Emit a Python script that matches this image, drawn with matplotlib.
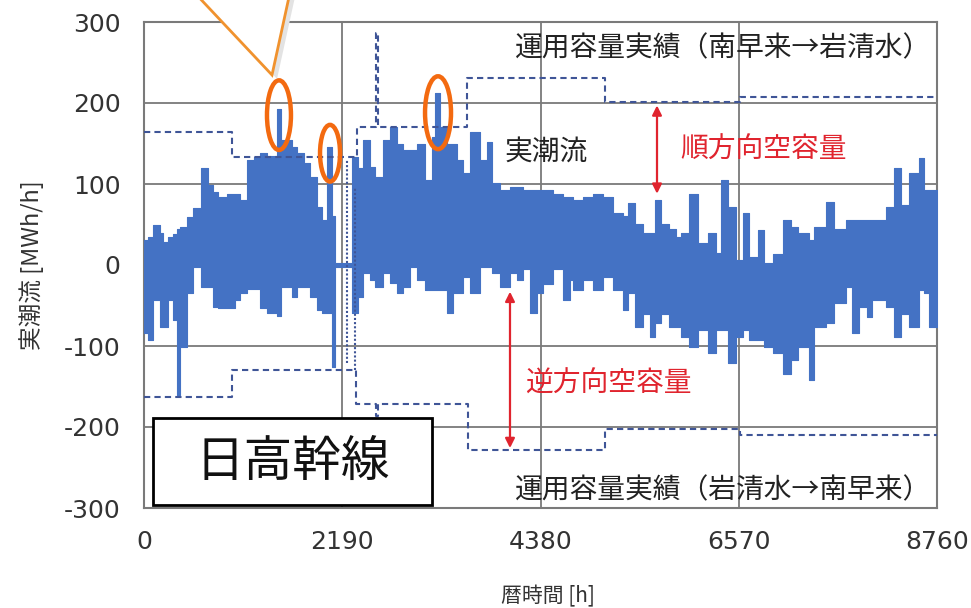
import matplotlib
matplotlib.use("Agg")
import matplotlib.pyplot as plt
from matplotlib.patches import Ellipse, Rectangle, Polygon
import numpy as np

plt.rcParams['font.family'] = ['Noto Sans CJK JP', 'DejaVu Sans']
plt.rcParams['axes.unicode_minus'] = False

# ---------------- data ----------------
# envelope of the hourly actual power flow: segment start hour, upper, lower [MWh/h]
flow_hours = [0, 44, 99, 177, 210, 265, 320, 365, 398, 475, 541, 630, 707, 762, 817,
              917, 1005, 1060, 1138, 1215, 1281, 1359, 1469, 1513, 1635, 1690, 1768,
              1834, 1911, 1966, 2022, 2077, 2110, 2298, 2364, 2419, 2497, 2552, 2640,
              2718, 2795, 2861, 2939, 3016, 3104, 3182, 3215, 3270, 3347, 3414, 3458,
              3524, 3601, 3712, 3789, 3844, 3933, 4043, 4121, 4187, 4264, 4341, 4408,
              4518, 4629, 4706, 4739, 4850, 4960, 5071, 5181, 5292, 5347, 5424, 5512,
              5590, 5645, 5711, 5800, 5877, 5932, 6021, 6120, 6231, 6319, 6374, 6452,
              6540, 6617, 6683, 6783, 6849, 6949, 7059, 7147, 7225, 7346, 7401, 7534,
              7622, 7755, 7821, 7899, 7987, 8042, 8197, 8285, 8362, 8451, 8561, 8617,
              8672]
flow_high = [31, 35, 49, 40, 28, 35, 38, 45, 47, 59, 70, 120, 99, 90, 84,
             88, 88, 80, 130, 133, 138, 135, 192, 154, 146, 138, 126,
             109, 72, 56, 146, 60, 2, 133, 120, 154, 121, 109, 154,
             170, 150, 142, 142, 150, 105, 158, 212, 170, 150, 150, 130,
             114, 164, 130, 152, 101, 93, 96, 96, 93, 93, 93, 93,
             88, 84, 84, 80, 84, 88, 84, 64, 60, 77, 51, 40,
             40, 80, 51, 44, 35, 40, 88, 27, 40, 15, 105, 72,
             6, 64, 10, 43, 2, 14, 56, 47, 40, 31, 47, 78,
             44, 56, 56, 56, 56, 56, 72, 120, 74, 114, 132, 93,
             93]
flow_low = [-84, -93, -43, -76, -76, -43, -68, -160, -101, -35, -2, -27, -27, -52, -53,
            -53, -43, -35, -30, -30, -53, -59, -63, -27, -39, -27, -27,
            -39, -56, -59, -59, -126, -2, -59, -40, -10, -19, -27, -10,
            -22, -35, -27, -2, -19, -31, -31, -31, -31, -59, -35, -35,
            -15, -35, -2, -2, -10, -27, -10, -19, -5, -59, -35, -23,
            -5, -43, -19, -31, -19, -31, -15, -31, -56, -35, -76, -60,
            -89, -72, -60, -76, -76, -89, -101, -80, -109, -80, -80, -121,
            -89, -80, -93, -93, -101, -109, -134, -117, -101, -142, -76, -72,
            -47, -27, -84, -52, -64, -43, -52, -89, -60, -76, -31, -35,
            -76]

# operating capacity (南早来→岩清水, positive) and (岩清水→南早来, negative)
cap_fwd_hours = [0, 972, 2350, 2560, 2590, 3568, 5093, 6584, 8760]
cap_fwd_vals = [164, 133, 170, 286, 170, 231, 201, 208, 208]
cap_rev_hours = [0, 972, 2340, 2560, 2590, 3580, 5093, 6584, 8760]
cap_rev_vals = [-163, -130, -172, -187, -172, -228, -203, -210, -210]
cap_switch_hours = [2243, 2331]
cap_switch_top = [130, 96]
cap_switch_bottom = [-121, -130]

# highlighted peaks (hour, MWh/h)
peak_hours = [1491, 2055, 3248]
peak_vals = [185, 138, 188]

x_ticks = [0, 2190, 4380, 6570, 8760]
y_ticks = [-300, -200, -100, 0, 100, 200, 300]

# ---------------- figure ----------------
W, H = 971, 608
fig = plt.figure(figsize=(W / 100, H / 100), dpi=100)
ax = fig.add_axes([144 / W, 100 / H, 793 / W, 486 / H])

blue = '#4472C4'
capc = '#3F5597'
red = '#E0242E'

fh = flow_hours + [8760]
fhi = flow_high + [flow_high[-1]]
flo = flow_low + [flow_low[-1]]
ax.fill_between(fh, flo, fhi, step='post', facecolor=blue, edgecolor=blue,
                lw=0.8, zorder=3)

ax.plot(cap_fwd_hours, cap_fwd_vals, drawstyle='steps-post', color=capc,
        lw=1.5, ls=(0, (3, 2)), zorder=4)
ax.plot(cap_rev_hours, cap_rev_vals, drawstyle='steps-post', color=capc,
        lw=1.5, ls=(0, (3, 2)), zorder=4)
ax.vlines(cap_switch_hours, cap_switch_bottom, cap_switch_top, color=capc,
          lw=1.5, linestyles=(0, (1, 1)), zorder=4)

ax.set_xlim(0, 8760)
ax.set_ylim(-300, 300)
ax.set_xticks(x_ticks)
ax.set_yticks(y_ticks)
ax.grid(True, color='#7a7a7a', lw=1.3, zorder=1)
ax.set_axisbelow(True)
for s in ax.spines.values():
    s.set_color('#7a7a7a')
    s.set_linewidth(1.5)
ax.tick_params(axis='both', length=0, labelsize=18, colors='#333333',
               labelfontfamily='DejaVu Sans')
ax.tick_params(axis='y', pad=17)
ax.tick_params(axis='x', pad=16)

# highlight ellipses
ell_w = [265, 221, 287]
ell_h = [86, 70, 90]
for hx, vy, w, h in zip(peak_hours, peak_vals, ell_w, ell_h):
    ax.add_patch(Ellipse((hx, vy), w, h, fill=False, ec='#F36A10', lw=3.2, zorder=6))

# arrows
ax.annotate('', xy=(5667, 88), xytext=(5667, 197),
            arrowprops=dict(arrowstyle='<|-|>', color=red, lw=1.6,
                            mutation_scale=14, shrinkA=0, shrinkB=0), zorder=6)
ax.annotate('', xy=(4043, -226), xytext=(4043, -33),
            arrowprops=dict(arrowstyle='<|-|>', color=red, lw=1.6,
                            mutation_scale=14, shrinkA=0, shrinkB=0), zorder=6)

# texts
ax.text(4098, 268, '運用容量実績（南早来→岩清水）', fontsize=20, color='#222222',
        ha='left', va='center', zorder=7)
ax.text(4098, -278, '運用容量実績（岩清水→南早来）', fontsize=20, color='#222222',
        ha='left', va='center', zorder=7)
ax.text(3988, 140, '実潮流', fontsize=20, color='#222222', ha='left', va='center', zorder=7)
ax.text(5921, 142, '順方向空容量', fontsize=20, color=red, ha='left', va='center', zorder=7)
ax.text(4209, -146, '逆方向空容量', fontsize=20, color=red, ha='left', va='center', zorder=7)

ax.add_patch(Rectangle((99, -296), 3083, 107, fc='white', ec='black', lw=2, zorder=8))
ax.text(1640, -243, '日高幹線', fontsize=35, color='#111111', ha='center', va='center', zorder=9)

# axis labels
fig.text(32 / W, 1 - 265 / H, '実潮流 [MWh/h]', rotation=90, fontsize=17,
         color='#333333', ha='center', va='center')
fig.text(548 / W, 1 - 596 / H, '暦時間 [h]', fontsize=15, color='#333333',
         ha='center', va='center')

# callout pointer (from a box above the chart)
shadow = Polygon([(197 / W, 1.02), (277 / W, 1 - 79 / H), (297 / W, 1.02)],
                 closed=True, transform=fig.transFigure, fc='#e3e3e3', ec='none',
                 zorder=10, clip_on=False)
fig.patches.append(shadow)
tri = Polygon([(190 / W, 1.02), (272 / W, 1 - 75 / H), (291 / W, 1.02)],
              closed=True, transform=fig.transFigure, fc='white', ec='#F0922E',
              lw=2, zorder=11, clip_on=False)
fig.patches.append(tri)

fig.savefig('out.png', dpi=100)
